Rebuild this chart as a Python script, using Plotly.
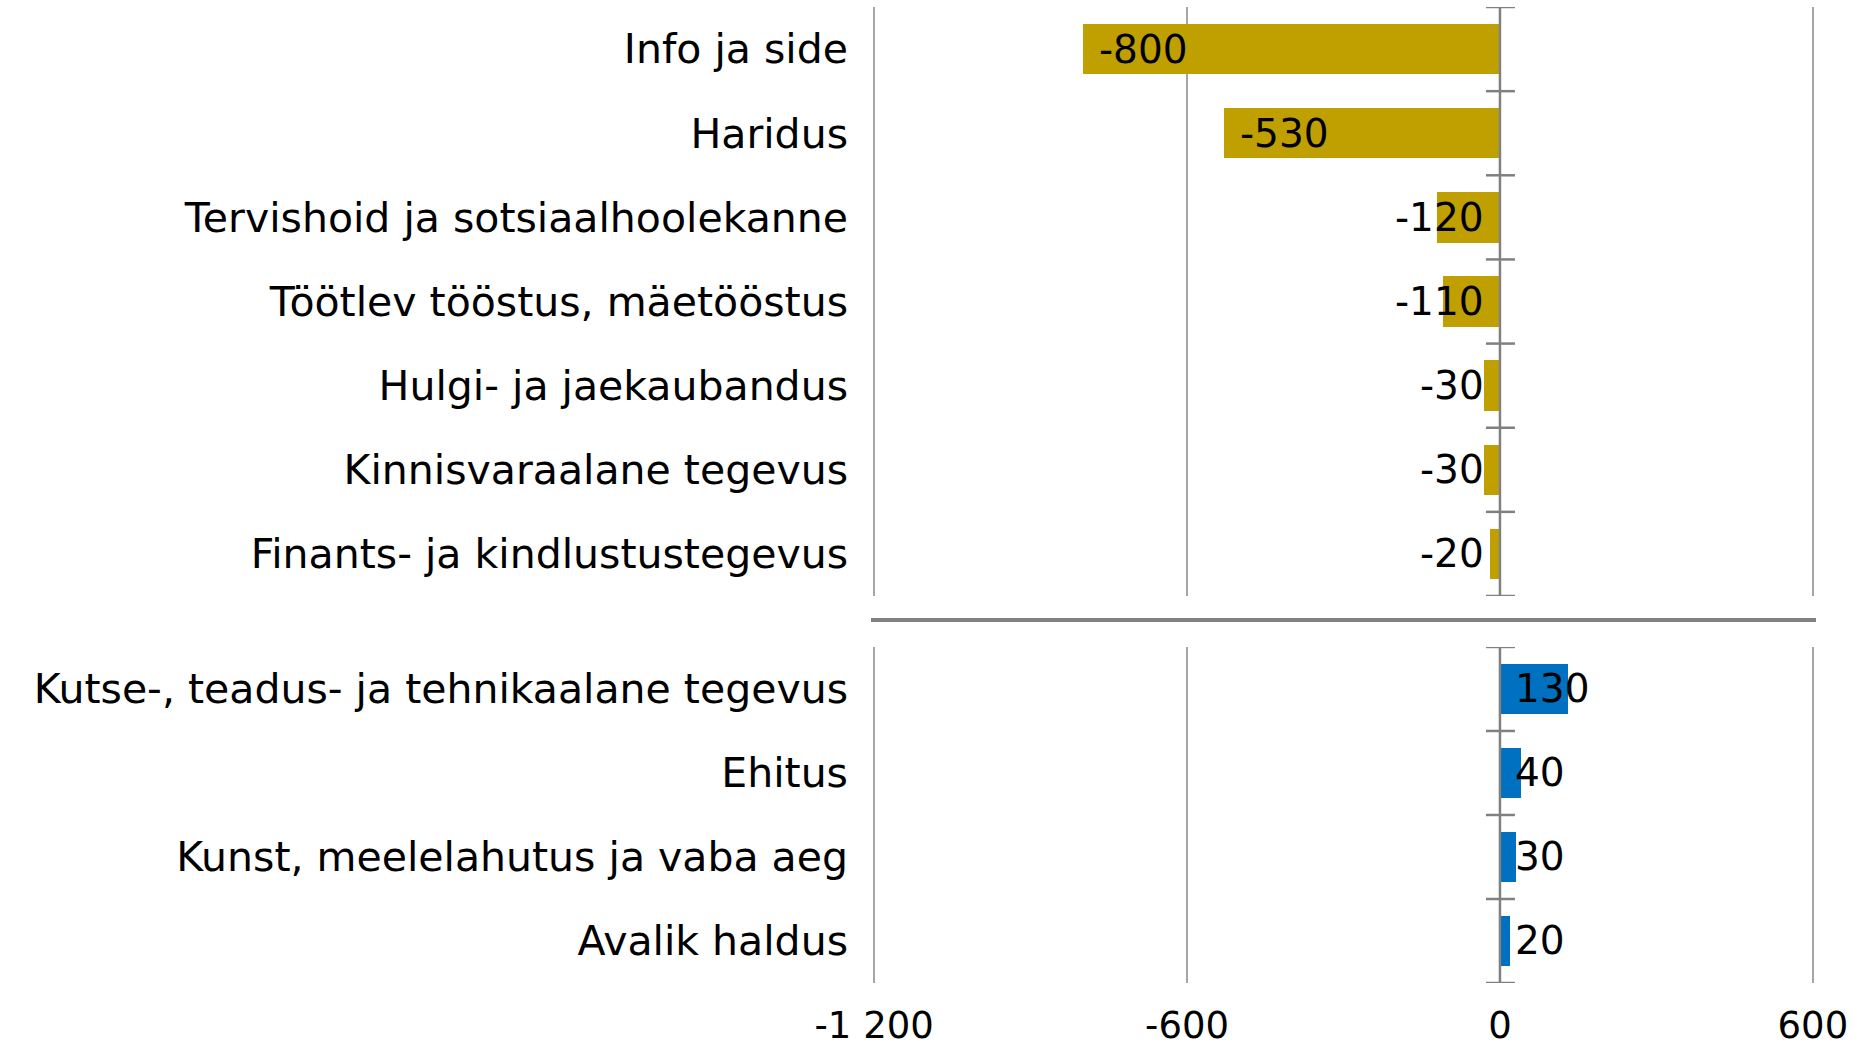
import plotly.graph_objects as go

top_cats = ["Info ja side", "Haridus", "Tervishoid ja sotsiaalhoolekanne",
            "Töötlev tööstus, mäetööstus", "Hulgi- ja jaekaubandus",
            "Kinnisvaraalane tegevus", "Finants- ja kindlustustegevus"]
top_vals = [-800, -530, -120, -110, -30, -30, -20]
bot_cats = ["Kutse-, teadus- ja tehnikaalane tegevus", "Ehitus",
            "Kunst, meelelahutus ja vaba aeg", "Avalik haldus"]
bot_vals = [130, 40, 30, 20]
x_tickvals = [-1200, -600, 0, 600]
x_ticktext = ["-1 200", "-600", "0", "600"]

GOLD = "#BFA000"
BLUE = "#0070C0"
FONT = "DejaVu Sans"
FS_CAT = 41
FS_VAL = 39
FS_TICK = 37
GRID = "#a6a6a6"
AXIS = "#808080"

fig = go.Figure()
fig.add_trace(go.Bar(y=list(range(len(top_cats))), x=top_vals, orientation="h",
                     marker=dict(color=GOLD, line=dict(width=0)), width=0.6,
                     xaxis="x2", yaxis="y2", hoverinfo="skip"))
fig.add_trace(go.Bar(y=list(range(len(bot_cats))), x=bot_vals, orientation="h",
                     marker=dict(color=BLUE, line=dict(width=0)), width=0.6,
                     xaxis="x", yaxis="y", hoverinfo="skip"))

top_dom = [0.3965, 1.0]
bot_dom = [0.0, 0.3443]
sep_y = 0.3719

common_x = dict(range=[-1206, 606], tickvals=x_tickvals, ticktext=x_ticktext,
                showgrid=True, gridcolor=GRID, gridwidth=1.5, zeroline=False,
                showline=False, automargin=False)
fig.update_layout(
    xaxis=dict(**common_x, anchor="y", ticks="outside", ticklen=10,
               tickcolor="rgba(0,0,0,0)",
               tickfont=dict(family=FONT, size=FS_TICK, color="black")),
    xaxis2=dict(**common_x, anchor="y2", matches="x", showticklabels=False),
    yaxis=dict(domain=bot_dom, range=[len(bot_cats) - 0.5, -0.5],
               tickvals=list(range(len(bot_cats))), ticktext=bot_cats,
               showgrid=False, zeroline=False, ticklabelstandoff=22,
               automargin=False,
               tickfont=dict(family=FONT, size=FS_CAT, color="black")),
    yaxis2=dict(domain=top_dom, range=[len(top_cats) - 0.5, -0.5],
                tickvals=list(range(len(top_cats))), ticktext=top_cats,
                showgrid=False, zeroline=False, ticklabelstandoff=22,
                automargin=False,
                tickfont=dict(family=FONT, size=FS_CAT, color="black")),
    width=1858, height=1049,
    margin=dict(l=871, r=42, t=7, b=66),
    plot_bgcolor="white", paper_bgcolor="white",
    showlegend=False, bargap=0,
)

shapes = []
# separator
shapes.append(dict(type="line", xref="paper", yref="paper", x0=0, x1=1,
                   y0=sep_y, y1=sep_y, line=dict(color=AXIS, width=4)))
# zero axes with crossing ticks
for yref, n in (("y2", len(top_cats)), ("y", len(bot_cats))):
    xr = "x2" if yref == "y2" else "x"
    shapes.append(dict(type="line", xref=xr, yref=yref, x0=0, x1=0,
                       y0=-0.5, y1=n - 0.5, line=dict(color=AXIS, width=2.5)))
    for k in range(n + 1):
        shapes.append(dict(type="line", xref=xr, yref=yref, xsizemode="pixel",
                           xanchor=0, x0=-14, x1=15, y0=k - 0.5, y1=k - 0.5,
                           line=dict(color=AXIS, width=2.5)))
fig.update_layout(shapes=shapes)

annotations = []
def add_labels(vals, xr, yr):
    for i, v in enumerate(vals):
        if v < 0 and abs(v) > 300:
            a = dict(x=v, xanchor="left", xshift=14)
        elif v < 0:
            a = dict(x=0, xanchor="right", xshift=-14)
        else:
            a = dict(x=0, xanchor="left", xshift=13)
        a.update(y=i, xref=xr, yref=yr, text=str(v), showarrow=False,
                 yanchor="middle",
                 font=dict(family=FONT, size=FS_VAL, color="black"))
        annotations.append(a)
add_labels(top_vals, "x2", "y2")
add_labels(bot_vals, "x", "y")
fig.update_layout(annotations=annotations)

fig.write_html("out.html", config={"displayModeBar": False},
               post_script="document.body.style.margin='0';"
                           "document.body.style.overflow='hidden';")
